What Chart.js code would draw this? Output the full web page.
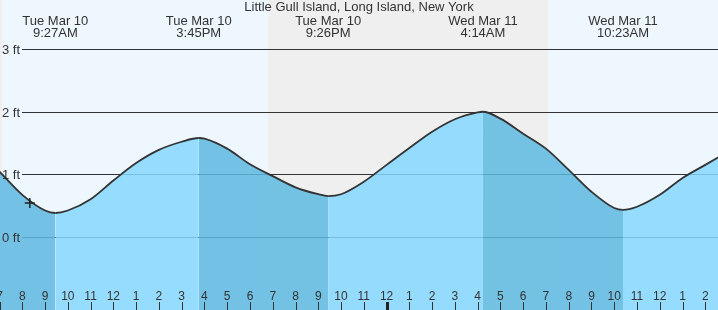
<!DOCTYPE html>
<html><head><meta charset="utf-8">
<script src="https://cdn.jsdelivr.net/npm/chart.js@4/dist/chart.umd.min.js"></script>
<style>html,body{margin:0;padding:0;background:#fff;overflow:hidden}canvas{display:block}</style>
</head><body><canvas id="c" width="718" height="310"></canvas>
<script>
// Hours since Tue Mar 10 00:00 and tide height (ft)
const tideHours = [7,8,9,9.45,10,11,12,13,14,15,15.75,16,17,18,19,20,21,21.433,22,23,24,25,26,27,28,28.233,29,30,31,32,33,34,34.383,35,36,37,38,39];
const tideFeet  = [1.04,0.67,0.42,0.38,0.42,0.60,0.90,1.18,1.39,1.52,1.58,1.57,1.41,1.16,0.97,0.79,0.68,0.65,0.68,0.88,1.15,1.42,1.68,1.88,1.99,2.00,1.89,1.65,1.41,1.07,0.72,0.46,0.43,0.48,0.67,0.94,1.15,1.36];
// High/low tide annotations
const extremeHours = [9.45,15.75,21.433,28.233,34.383];
const extremeDays  = ["Tue Mar 10","Tue Mar 10","Tue Mar 10","Wed Mar 11","Wed Mar 11"];
const extremeTimes = ["9:27AM","3:45PM","9:26PM","4:14AM","10:23AM"];
// Current time marker
const nowHour = [8.33];
const nowFeet = [0.54];
// Night periods
const nightStart = [0, 18.77];
const nightEnd   = [7.1, 31.08];
// Axis ticks
const feetTicks  = [0,1,2,3];
const feetLabels = ["0 ft","1 ft","2 ft","3 ft"];
const hourTicks  = [7,8,9,10,11,12,13,14,15,16,17,18,19,20,21,22,23,24,25,26,27,28,29,30,31,32,33,34,35,36,37,38];
const hourLabels = ["7","8","9","10","11","12","1","2","3","4","5","6","7","8","9","10","11","12","1","2","3","4","5","6","7","8","9","10","11","12","1","2"];
const titleText = "Little Gull Island, Long Island, New York";

const LIGHT = 'rgba(133,215,255,0.85)';
const DARK  = 'rgba(93,184,225,0.85)';
const FONT = '"Liberation Sans", Arial, sans-serif';
const TXT = '#333';

const decor = {
  id: 'decor',
  beforeDatasetsDraw(chart) {
    const {ctx, chartArea: a, scales: {x, y}} = chart;
    ctx.save();
    ctx.fillStyle = '#eef6fe';
    ctx.fillRect(a.left, a.top, a.right - a.left, a.bottom - a.top);
    ctx.fillStyle = '#efefef';
    for (let i = 0; i < nightStart.length; i++) {
      const x0 = Math.max(Math.round(x.getPixelForValue(nightStart[i])), a.left);
      const x1 = Math.round(x.getPixelForValue(nightEnd[i]));
      ctx.fillRect(x0, a.top, x1 - x0, a.bottom - a.top);
    }
    ctx.strokeStyle = '#333';
    ctx.lineWidth = 1;
    for (const v of feetTicks) {
      const py = Math.round(y.getPixelForValue(v)) + 0.5;
      ctx.beginPath(); ctx.moveTo(22, py); ctx.lineTo(a.right, py); ctx.stroke();
    }
    ctx.restore();
  },
  afterDraw(chart) {
    const {ctx, scales: {x, y}} = chart;
    ctx.save();
    ctx.fillStyle = TXT;
    ctx.font = '13px ' + FONT;
    ctx.textAlign = 'left';
    ctx.textBaseline = 'alphabetic';
    feetTicks.forEach((v, i) => {
      ctx.fillText(feetLabels[i], 2, Math.round(y.getPixelForValue(v)) + 4.5);
    });
    ctx.font = '12px ' + FONT;
    ctx.textAlign = 'center';
    hourTicks.forEach((h, i) => {
      const px = x.getPixelForValue(h);
      ctx.fillStyle = TXT;
      ctx.fillText(hourLabels[i], px, 300);
      if (h % 24 === 0) {
        ctx.fillStyle = '#222';
        ctx.fillRect(Math.round(px) - 1, 302, 3, 8);
      } else {
        ctx.strokeStyle = '#333';
        ctx.lineWidth = 1;
        ctx.beginPath();
        ctx.moveTo(Math.round(px) + 0.5, 302);
        ctx.lineTo(Math.round(px) + 0.5, 310);
        ctx.stroke();
      }
    });
    ctx.fillStyle = TXT;
    ctx.font = '13px ' + FONT;
    ctx.fillText(titleText, 359, 11);
    extremeHours.forEach((h, i) => {
      const px = x.getPixelForValue(h);
      ctx.fillText(extremeDays[i], px, 25);
      ctx.fillText(extremeTimes[i], px, 36.5);
    });
    ctx.restore();
  }
};

new Chart(document.getElementById('c'), {
  type: 'line',
  data: {
    datasets: [
      {
        data: tideHours.map((h, i) => ({x: h, y: tideFeet[i]})),
        borderColor: '#333',
        borderWidth: 1.8,
        pointRadius: 0,
        cubicInterpolationMode: 'monotone',
        fill: 'start',
        backgroundColor: LIGHT,
        segment: {
          backgroundColor: c => (c.p1.parsed.y < c.p0.parsed.y ? DARK : LIGHT)
        },
        order: 2
      },
      {
        type: 'scatter',
        data: nowHour.map((h, i) => ({x: h, y: nowFeet[i]})),
        pointStyle: 'cross',
        pointRadius: 5,
        borderColor: '#222',
        borderWidth: 1.5,
        backgroundColor: '#222',
        order: 1
      }
    ]
  },
  options: {
    responsive: false,
    animation: false,
    events: [],
    layout: {padding: 0, autoPadding: false},
    plugins: {legend: {display: false}, tooltip: {enabled: false}},
    scales: {
      x: {type: 'linear', display: false, min: 7.0205, max: 38.557},
      y: {type: 'linear', display: false, min: -1.173, max: 3.789}
    }
  },
  plugins: [decor]
});
</script>
</body></html>
